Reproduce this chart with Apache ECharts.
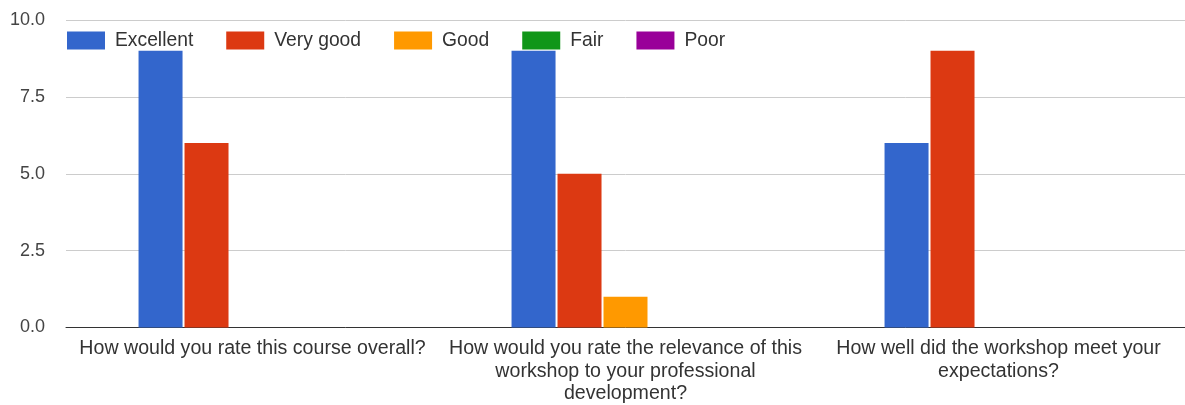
<!DOCTYPE html>
<html>
<head>
<meta charset="utf-8">
<script src="https://cdn.jsdelivr.net/npm/echarts@6/dist/echarts.min.js"></script>
<style>
html,body{margin:0;padding:0;background:#fff;}
#chart{width:1185px;height:405px;}
</style>
</head>
<body>
<div id="chart"></div>
<script>
const categories = [
  "How would you rate this course overall?",
  "How would you rate the relevance of this\nworkshop to your professional\ndevelopment?",
  "How well did the workshop meet your\nexpectations?"
];
const seriesNames = ["Excellent", "Very good", "Good", "Fair", "Poor"];
const excellent = [9, 9, 6];
const veryGood = [6, 5, 9];
const good = [0, 1, 0];
const fair = [0, 0, 0];
const poor = [0, 0, 0];
const colors = ["#3366cc", "#dc3912", "#ff9900", "#109618", "#990099"];
const yTicks = [0, 2.5, 5, 7.5, 10];

const values = [excellent, veryGood, good, fair, poor];
const FONT = "'Liberation Sans', Arial, sans-serif";

const chart = echarts.init(document.getElementById('chart'));
chart.setOption({
  animation: false,
  color: colors,
  textStyle: { fontFamily: FONT },
  grid: { left: 66, right: 0, top: 20, bottom: 77, containLabel: false },
  legend: {
    left: 67, top: 31, padding: 0,
    itemWidth: 38, itemHeight: 18, itemGap: 33,
    icon: 'rect',
    textStyle: { fontSize: 19.3, color: '#333', fontFamily: FONT, padding: [0, 0, 0, 5] },
    data: seriesNames
  },
  xAxis: {
    type: 'category',
    data: categories,
    axisTick: { show: false },
    axisLine: { lineStyle: { color: '#333', width: 1 } },
    axisLabel: { fontSize: 19.6, color: '#333', fontFamily: FONT, margin: 10, lineHeight: 22.5, interval: 0 }
  },
  yAxis: {
    type: 'value',
    min: yTicks[0], max: yTicks[yTicks.length - 1], interval: 2.5,
    axisLine: { show: false },
    axisTick: { show: false },
    splitLine: { lineStyle: { color: '#cccccc', width: 1 } },
    axisLabel: { fontSize: 18, color: '#444', fontFamily: FONT, margin: 21,
      formatter: v => v.toFixed(1) }
  },
  series: seriesNames.map((n, i) => ({
    name: n,
    type: 'bar',
    data: values[i],
    barWidth: 44,
    barGap: '4.5%',
    itemStyle: { color: colors[i] }
  }))
});
</script>
</body>
</html>
